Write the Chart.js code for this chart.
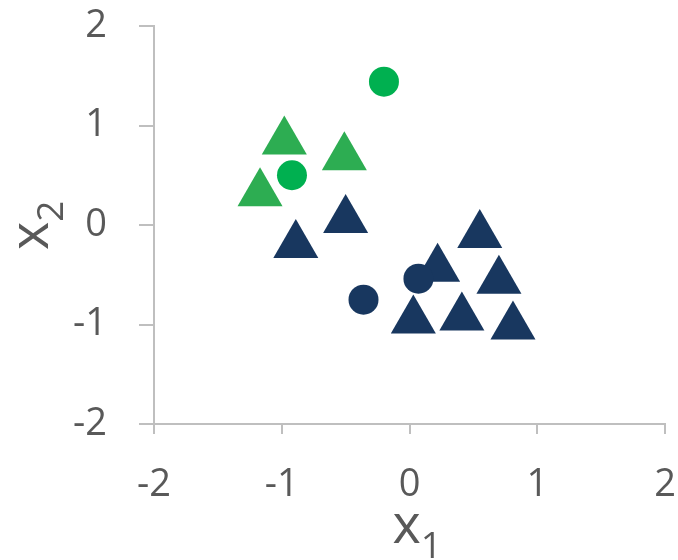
<!DOCTYPE html>
<html>
<head>
<meta charset="utf-8">
<script src="https://cdn.jsdelivr.net/npm/chart.js@4"></script>
<style>
  html, body { margin: 0; padding: 0; background: #fff; }
  #wrap { width: 678px; height: 560px; }
</style>
</head>
<body>
<div id="wrap"><canvas id="myChart"></canvas></div>
<script>
const ctx = document.getElementById("myChart");

// class A (green)
const greenCircleX = [-0.20, -0.92];
const greenCircleY = [1.44, 0.50];
const greenTriX = [-0.98, -0.51, -1.17];
const greenTriY = [0.84, 0.68, 0.32];

// class B (navy)
const navyCircleX = [-0.36, 0.07];
const navyCircleY = [-0.75, -0.54];
const navyTriX = [-0.89, -0.50, 0.55, 0.22, 0.70, 0.03, 0.41, 0.81];
const navyTriY = [-0.20, 0.05, -0.10, -0.44, -0.56, -0.96, -0.93, -1.02];

const tickValues = [-2, -1, 0, 1, 2];
const xTitle = ["x", "1"];
const yTitle = ["x", "2"];

const toPoints = (xs, ys) => xs.map((x, i) => ({ x: x, y: ys[i] }));

const tickColor = "#595959";
const lineColor = "#bfbfbf";
const font = "'Open Sans', sans-serif";

// draws axis titles with a subscript
const titlePlugin = {
  id: "subTitles",
  afterDraw(chart) {
    const c = chart.ctx;
    const area = chart.chartArea;
    c.save();
    c.fillStyle = tickColor;
    c.textBaseline = "alphabetic";
    const big = "54px " + font;
    const small = "37px " + font;

    // x title
    c.font = big;
    const wx = c.measureText(xTitle[0]).width;
    const x0 = (area.left + area.right) / 2 - 17;
    c.fillText(xTitle[0], x0, 543);
    c.font = small;
    c.fillText(xTitle[1], x0 + wx, 558);

    // y title, rotated
    c.translate(48, 250);
    c.rotate(-Math.PI / 2);
    c.font = big;
    const vx = c.measureText(yTitle[0]).width;
    c.fillText(yTitle[0], 0, 0);
    c.font = small;
    c.fillText(yTitle[1], vx, 15);
    c.restore();
  },
};

const data = {
  datasets: [
    {
      label: "A circles",
      data: toPoints(greenCircleX, greenCircleY),
      pointStyle: "circle",
      pointRadius: 15,
      backgroundColor: "#00b050",
      borderWidth: 0,
    },
    {
      label: "B circles",
      data: toPoints(navyCircleX, navyCircleY),
      pointStyle: "circle",
      pointRadius: 15,
      backgroundColor: "#18375f",
      borderWidth: 0,
    },
    {
      label: "A triangles",
      data: toPoints(greenTriX, greenTriY),
      pointStyle: "triangle",
      pointRadius: 26,
      backgroundColor: "#2dad52",
      borderWidth: 0,
    },
    {
      label: "B triangles",
      data: toPoints(navyTriX, navyTriY),
      pointStyle: "triangle",
      pointRadius: 26,
      backgroundColor: "#18375f",
      borderWidth: 0,
    },
  ],
};

const config = {
  type: "scatter",
  data: data,
  plugins: [titlePlugin],
  options: {
    responsive: true,
    maintainAspectRatio: false,
    animation: false,
    layout: {
      autoPadding: false,
      padding: 0,
    },
    elements: {
      point: { hoverRadius: 0 },
    },
    plugins: {
      legend: { display: false },
      tooltip: { enabled: false },
    },
    scales: {
      x: {
        type: "linear",
        min: -2,
        max: 2,
        afterBuildTicks: (axis) => {
          axis.ticks = tickValues.map((v) => ({ value: v }));
        },
        afterFit: (axis) => {
          axis.height = 136;
          axis.paddingLeft = 0;
          axis.paddingRight = 13;
        },
        border: { color: lineColor, width: 2 },
        grid: {
          drawOnChartArea: false,
          color: lineColor,
          lineWidth: 2,
          tickLength: 10,
        },
        ticks: {
          color: tickColor,
          padding: 28,
          font: { family: font, size: 38 },
        },
      },
      y: {
        type: "linear",
        min: -2,
        max: 2,
        afterBuildTicks: (axis) => {
          axis.ticks = tickValues.map((v) => ({ value: v }));
        },
        afterFit: (axis) => {
          axis.width = 154;
          axis.paddingTop = 26;
          axis.paddingBottom = 0;
        },
        border: { color: lineColor, width: 2 },
        grid: {
          drawOnChartArea: false,
          color: lineColor,
          lineWidth: 2,
          tickLength: 15,
        },
        ticks: {
          color: tickColor,
          padding: 32,
          font: { family: font, size: 38 },
        },
      },
    },
  },
};

new Chart(ctx, config);
</script>
</body>
</html>
